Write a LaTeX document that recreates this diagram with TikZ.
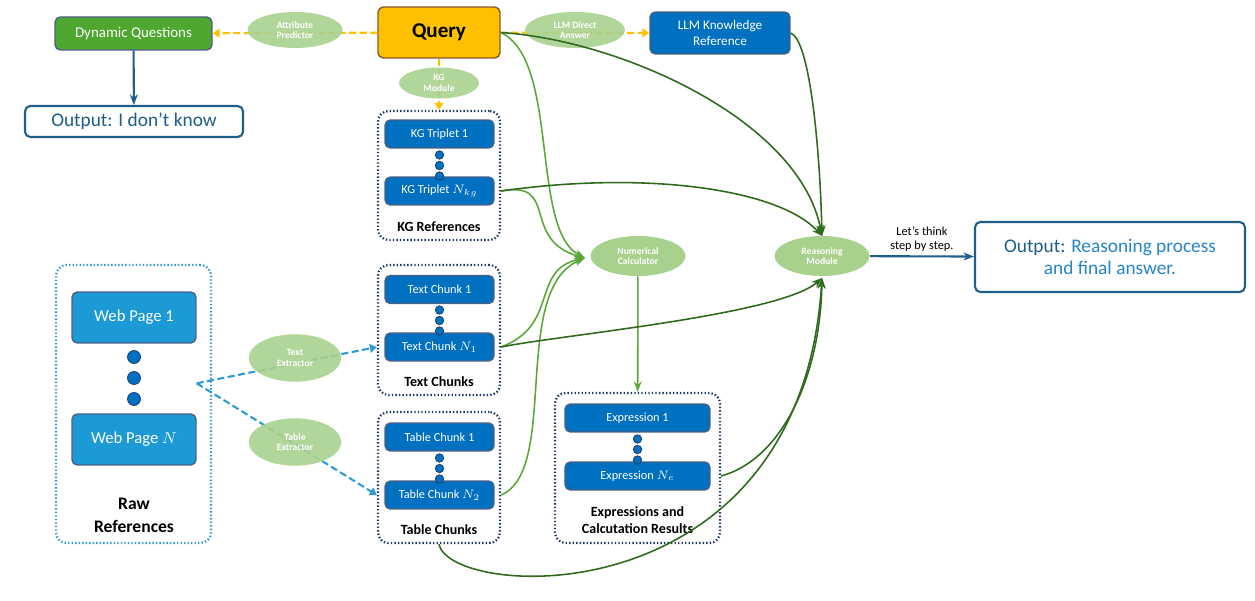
\documentclass[tikz,border=0pt]{standalone}
\usepackage{fontspec}
\setmainfont{Carlito}
\usepackage{amsmath}
\usetikzlibrary{arrows.meta}
\definecolor{qyellow}{HTML}{FFC000}
\definecolor{dgreen}{HTML}{4EA72E}
\definecolor{lgreen}{HTML}{A9D18E}
\definecolor{mblue}{HTML}{0070C0}
\definecolor{wblue}{HTML}{1C9AD6}
\definecolor{navy}{HTML}{1F3864}
\definecolor{tblue}{HTML}{1F5E8A}
\definecolor{cgreen}{HTML}{5AA83A}
\definecolor{rgreen}{HTML}{2F6A1E}
\definecolor{dashblue}{HTML}{2E9BD6}
\tikzset{
  box/.style={draw=navy!80,rounded corners=3pt,inner sep=0pt,text=white,line width=0.8pt},
  chunk/.style={box,fill=mblue,minimum width=2.18cm,minimum height=0.56cm,font=\fontsize{7}{8}\selectfont},
  group/.style={draw=navy,line width=1.3pt,dash pattern=on 0.8pt off 1.2pt,rounded corners=6pt,inner sep=0pt},
  ellip/.style={ellipse,fill=lgreen,text=white,inner sep=0pt,align=center,font=\fontsize{5.5}{6}\selectfont\bfseries},
  dot/.style={circle,fill=mblue,draw=navy,inner sep=0pt,minimum size=#1},
  ydash/.style={qyellow,line width=1.2pt,dash pattern=on 4pt off 2pt,-{Triangle[length=4pt,width=5pt]}},
  bdash/.style={dashblue,line width=1.2pt,dash pattern=on 4pt off 2pt,-{Triangle[length=4pt,width=5pt]}},
  carrow/.style={cgreen,line width=0.9pt,-{Stealth[length=6pt]}},
  rarrow/.style={rgreen,line width=0.9pt,-{Stealth[length=6pt]}}
}
\usetikzlibrary{shapes.geometric}
\begin{document}
\begin{tikzpicture}[x=0.02cm,y=-0.02cm]
\useasboundingbox (0,0) rectangle (1255,601);
%TOP ROW
\node[box,fill=qyellow,draw=brown!70!black,text=black,minimum width=2.44cm,minimum height=1.02cm,font=\fontsize{12}{14}\selectfont\bfseries] (query) at (439,32.5) {Query};
\node[box,fill=dgreen,minimum width=3.14cm,minimum height=0.66cm,font=\fontsize{8.5}{10}\selectfont] (dynq) at (133.5,33.5) {Dynamic Questions};
\node[box,fill=white,draw=tblue,line width=1.2pt,text=tblue,minimum width=4.36cm,minimum height=0.62cm,font=\fontsize{11}{13}\selectfont] (idk) at (134,121.5) {Output: I don’t know};
\node[box,fill=mblue,minimum width=2.8cm,minimum height=0.84cm,align=center,font=\fontsize{7.5}{9}\selectfont] (llmref) at (720,33) {LLM Knowledge\\Reference};
%GROUPS
\node[group,minimum width=2.44cm,minimum height=2.58cm] (kg) at (439,175.5) {};
\node[group,minimum width=2.44cm,minimum height=2.6cm] (text) at (439,330) {};
\node[group,minimum width=2.44cm,minimum height=2.62cm] (table) at (439,477.5) {};
\node[group,draw=dashblue,minimum width=3.1cm,minimum height=5.56cm] (raw) at (133.5,404) {};
\node[group,minimum width=3.3cm,minimum height=3.0cm] (expr) at (637.5,468) {};
%CHUNKS
\node[chunk] (kg1) at (439.5,134) {KG Triplet 1};
\node[chunk] (kgn) at (439.5,191) {KG Triplet $N_{kg}$};
\node[chunk] (tc1) at (439.5,289.5) {Text Chunk 1};
\node[chunk] (tcn) at (439.5,347) {Text Chunk $N_1$};
\node[chunk] (tb1) at (439.5,437) {Table Chunk 1};
\node[chunk] (tbn) at (439.5,495) {Table Chunk $N_2$};
\node[chunk,minimum width=2.9cm] (ex1) at (637.5,418) {Expression 1};
\node[chunk,minimum width=2.9cm] (exn) at (637.5,476) {Expression $N_e$};
\node[box,fill=wblue,minimum width=2.48cm,minimum height=1.02cm,font=\fontsize{9.5}{11}\selectfont] (web1) at (134,317.5) {Web Page 1};
\node[box,fill=wblue,minimum width=2.48cm,minimum height=1.02cm,font=\fontsize{9.5}{11}\selectfont] (webn) at (134,439.5) {Web Page $N$};
\foreach \y in {155,165.5,176} \node[dot=0.17cm] at (439.5,\y) {};
\foreach \y in {310,320.5,331} \node[dot=0.17cm] at (439.5,\y) {};
\foreach \y in {458,468.5,479} \node[dot=0.17cm] at (439.5,\y) {};
\foreach \y in {439,449.5,460} \node[dot=0.17cm] at (637.5,\y) {};
\foreach \y in {357,378,399} \node[dot=0.26cm] at (134,\y) {};
%LABELS
\node[font=\fontsize{8}{9}\selectfont\bfseries] (kglab) at (439,227) {KG References};
\node[font=\fontsize{8}{9}\selectfont\bfseries] (tclab) at (439,382) {Text Chunks};
\node[font=\fontsize{8}{9}\selectfont\bfseries] (tblab) at (439,530) {Table Chunks};
\node[font=\fontsize{8}{10}\selectfont\bfseries,align=center] (exlab) at (637.5,520) {Expressions and\\Calcutation Results};
\node[font=\fontsize{10}{13}\selectfont\bfseries,align=center] (rawlab) at (134,515) {Raw\\References};
%OUTPUT
\node[box,fill=white,draw=tblue,line width=1.2pt,minimum width=5.4cm,minimum height=1.4cm,align=center,font=\fontsize{11}{13}\selectfont] (out) at (1110,257) {\textcolor{tblue}{Output:} \textcolor{mblue!85!white}{Reasoning process}\\\textcolor{mblue!85!white}{and final answer.}};
%CONNECTORS
\draw[ydash] (query) -- (dynq);
\draw[ydash] (query) -- (llmref);
\draw[ydash] (query) -- (kg);
\draw[tblue,line width=1.2pt,-{Stealth[length=6pt]}] (dynq) -- (idk);
\draw[bdash] (webn.north east) ++(0,-30) coordinate (wp) -- (tcn.west -| text.west);
\draw[bdash] (wp) -- (tbn.west -| table.west);
%ELLIPSES
\node[ellip,minimum width=1.9cm,minimum height=0.72cm,fill opacity=0.9,text opacity=1] (attr) at (295,30) {Attribute\\Predictor};
\node[ellip,minimum width=2.0cm,minimum height=0.72cm,fill opacity=0.9,text opacity=1] (direct) at (575,30) {LLM Direct\\Answer};
\node[ellip,minimum width=1.6cm,minimum height=0.62cm,fill opacity=0.9,text opacity=1] (kgmod) at (439,83) {KG\\Module};
\node[ellip,minimum width=1.85cm,minimum height=0.95cm,fill opacity=0.9,text opacity=1] (textx) at (295,358) {Text\\Extractor};
\node[ellip,minimum width=1.85cm,minimum height=0.95cm,fill opacity=0.9,text opacity=1] (tablex) at (295,442) {Table\\Extractor};
\node[ellip,minimum width=1.9cm,minimum height=0.8cm] (calc) at (638,256) {Numerical\\Calculator};
\node[ellip,minimum width=1.9cm,minimum height=0.8cm] (reason) at (822,256) {Reasoning\\Module};
%GREEN CURVES
\coordinate (cin) at (585,258);
\draw[carrow] (query.east) .. controls (560,60) and (530,230) .. (cin);
\draw[carrow] (kgn.east -| kg.east) .. controls (560,180) and (520,240) .. (cin);
\draw[carrow] (tcn.west -| text.east) .. controls (560,325) and (530,270) .. (cin);
\draw[carrow] (tbn.west -| table.east) .. controls (560,470) and (510,290) .. (cin);
\draw[carrow] (calc) -- (expr);
%REASONING CURVES
\coordinate (rtop) at (822,236);
\coordinate (rbot) at (822,278);
\draw[rarrow] (query.east) .. controls (620,40) and (800,120) .. (rtop);
\draw[rarrow] (llmref.east) .. controls (810,40) and (820,150) .. (rtop);
\draw[rarrow] (kgn.east -| kg.east) .. controls (650,170) and (780,190) .. (rtop);
\draw[rarrow] (tcn.west -| text.east) .. controls (560,335) and (780,315) .. (rbot);
\draw[rarrow] (exn.east -| expr.east) .. controls (780,460) and (820,380) .. (rbot);
\draw[rarrow] (table.south) .. controls (450,600) and (800,620) .. (rbot);
\draw[tblue,line width=1.2pt,-{Stealth[length=6pt]}] (reason) -- (out) node[midway,above=-1pt,text=black,align=center,font=\fontsize{7}{8}\selectfont] {Let’s think\\step by step.};
\end{tikzpicture}
\end{document}
